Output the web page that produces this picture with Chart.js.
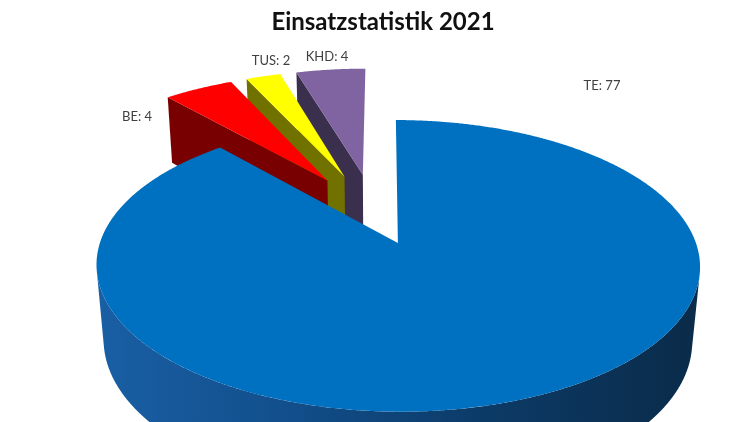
<!DOCTYPE html>
<html>
<head>
<meta charset="utf-8">
<script src="https://cdn.jsdelivr.net/npm/chart.js@4/dist/chart.umd.min.js"></script>
<style>
  html, body { margin: 0; padding: 0; background: #ffffff; overflow: hidden; }
  #wrap { width: 750px; height: 422px; }
</style>
</head>
<body>
<div id="wrap"><canvas id="c" width="750" height="422"></canvas></div>
<script>
// Einsätze 2021 nach Art
const categories = ['TE', 'BE', 'TUS', 'KHD'];
const einsaetze = [77, 4, 2, 4];

// Explosion of each slice, as a share of the radius
const explodeShare = [0.22, 0.316, 0.316, 0.316];

const topColors = ['#0070C0', '#FF0000', '#FFFF00', '#8064A2'];
const sideColors = ['#0E4A82', '#780000', '#717100', '#3A2F4D'];

const RADIUS = 298;

// Draws the pie as a tilted cylinder seen in perspective, using the
// angles and offsets that Chart.js computed for each arc.
const pie3d = {
  id: 'pie3d',
  beforeDatasetsDraw(chart, args, opts) {
    const ctx = chart.ctx;
    const arcs = chart.getDatasetMeta(0).data;
    const R = arcs[0].outerRadius;
    const cx = arcs[0].x + opts.shiftX;
    const cy = arcs[0].y + opts.shiftY;
    const phi = opts.elevation * Math.PI / 180;
    const cp = Math.cos(phi), sp = Math.sin(phi);
    const L = opts.distance, h = opts.depth;

    const slices = arcs.map(el => {
      const a0 = el.startAngle, a1 = el.endAngle;
      const mid = (a0 + a1) / 2;
      const e = (el.options.offset || 0) / R;
      return { a0, a1, ax: e * Math.cos(mid), ay: e * Math.sin(mid) };
    });

    // camera aims near the apex of the largest slice, panned a little to the left
    const tx = slices[0].ax - opts.pan, ty = slices[0].ay;
    const camX = tx, camY = ty + L * cp;

    const depthOf = (x, y, z) => L - (y - ty) * cp - z * sp;
    const proj = (x, y, z) => {
      const qx = x - tx, qy = y - ty;
      const d = L - qy * cp - z * sp;
      const sy = -qy * sp + z * cp;
      return [cx + R * L * qx / d, cy - R * L * sy / d];
    };
    const arcPts = (s, t0, t1, z) => {
      const n = Math.max(2, Math.ceil(Math.abs(t1 - t0) / 0.006));
      const pts = [];
      for (let k = 0; k <= n; k++) {
        const t = t0 + (t1 - t0) * k / n;
        pts.push(proj(s.ax + Math.cos(t), s.ay + Math.sin(t), z));
      }
      return pts;
    };
    const fillPoly = (pts, style) => {
      ctx.beginPath();
      pts.forEach((p, k) => k ? ctx.lineTo(p[0], p[1]) : ctx.moveTo(p[0], p[1]));
      ctx.closePath();
      ctx.fillStyle = style;
      ctx.fill();
    };
    const radialFace = (s, a) => {
      const px = s.ax + Math.cos(a), py = s.ay + Math.sin(a);
      return {
        key: depthOf((s.ax + px) / 2, (s.ay + py) / 2, -h / 2),
        pts: [proj(s.ax, s.ay, 0), proj(px, py, 0), proj(px, py, -h), proj(s.ax, s.ay, -h)]
      };
    };

    const walls = [];
    slices.forEach((s, i) => {
      const vx = camX - s.ax, vy = camY - s.ay;
      const vl = Math.hypot(vx, vy);
      // radial faces, kept only when turned clearly towards the camera
      const f0 = (vx * Math.sin(s.a0) - vy * Math.cos(s.a0)) / vl;
      if (f0 > 0.05) walls.push(Object.assign({ i }, radialFace(s, s.a0)));
      const f1 = (-vx * Math.sin(s.a1) + vy * Math.cos(s.a1)) / vl;
      if (f1 > 0.05) walls.push(Object.assign({ i }, radialFace(s, s.a1)));
      // curved outer wall: only the part turned towards the camera
      if (vl > 1) {
        const psi = Math.atan2(vy, vx), del = Math.acos(1 / vl);
        for (const shift of [-2 * Math.PI, 0, 2 * Math.PI]) {
          const lo = Math.max(s.a0, psi - del + shift), hi = Math.min(s.a1, psi + del + shift);
          if (hi > lo) {
            const m = (lo + hi) / 2;
            walls.push({ i, curved: true,
              key: depthOf(s.ax + Math.cos(m), s.ay + Math.sin(m), -h / 2),
              pts: arcPts(s, lo, hi, 0).concat(arcPts(s, hi, lo, -h)) });
          }
        }
      }
    });

    walls.sort((a, b) => b.key - a.key);
    walls.forEach(w => {
      let style = sideColors[w.i];
      if (w.curved && w.i === 0) {
        const g = ctx.createLinearGradient(cx - R, 0, cx + R + 60, 0);
        opts.wallStops.forEach(([o, c]) => g.addColorStop(o, c));
        style = g;
      }
      fillPoly(w.pts, style);
    });

    // top faces
    slices.forEach((s, i) => {
      const pts = [proj(s.ax, s.ay, 0)].concat(arcPts(s, s.a0, s.a1, 0));
      fillPoly(pts, topColors[i]);
    });
    return false;
  },
  afterDraw(chart, args, opts) {
    const ctx = chart.ctx;
    ctx.save();
    ctx.font = '13px Lato';
    ctx.fillStyle = '#404040';
    ctx.textAlign = 'center';
    ctx.textBaseline = 'middle';
    categories.forEach((c, i) => {
      const [x, y] = opts.labelAt[i];
      ctx.fillText(c + ': ' + einsaetze[i], x, y);
    });
    ctx.restore();
  }
};

new Chart(document.getElementById('c'), {
  type: 'pie',
  data: {
    labels: categories,
    datasets: [{
      data: einsaetze,
      backgroundColor: topColors,
      borderWidth: 0,
      offset: explodeShare.map(e => e * RADIUS),
      clip: false
    }]
  },
  options: {
    responsive: false,
    animation: false,
    events: [],
    radius: RADIUS,
    layout: { padding: { left: 16, right: 0, top: 0, bottom: 0 } },
    plugins: {
      legend: { display: false },
      tooltip: { enabled: false },
      title: {
        display: true,
        text: 'Einsatzstatistik 2021',
        color: '#111111',
        font: { family: 'Lato', size: 24, weight: 'bold', lineHeight: 1.2 },
        padding: { top: 8, bottom: 27 }
      },
      pie3d: {
        shiftX: 0,
        shiftY: 0,
        pan: 0.05,
        elevation: 28.5,
        distance: 5.58,
        depth: 0.29,
        wallStops: [[0, '#1A60A6'], [0.3, '#124F8C'], [0.6, '#0C3B68'], [1, '#0A2843']],
        labelAt: [[602, 86], [137, 117], [271, 61], [327, 57]]
      }
    }
  },
  plugins: [pie3d]
});
</script>
</body>
</html>
